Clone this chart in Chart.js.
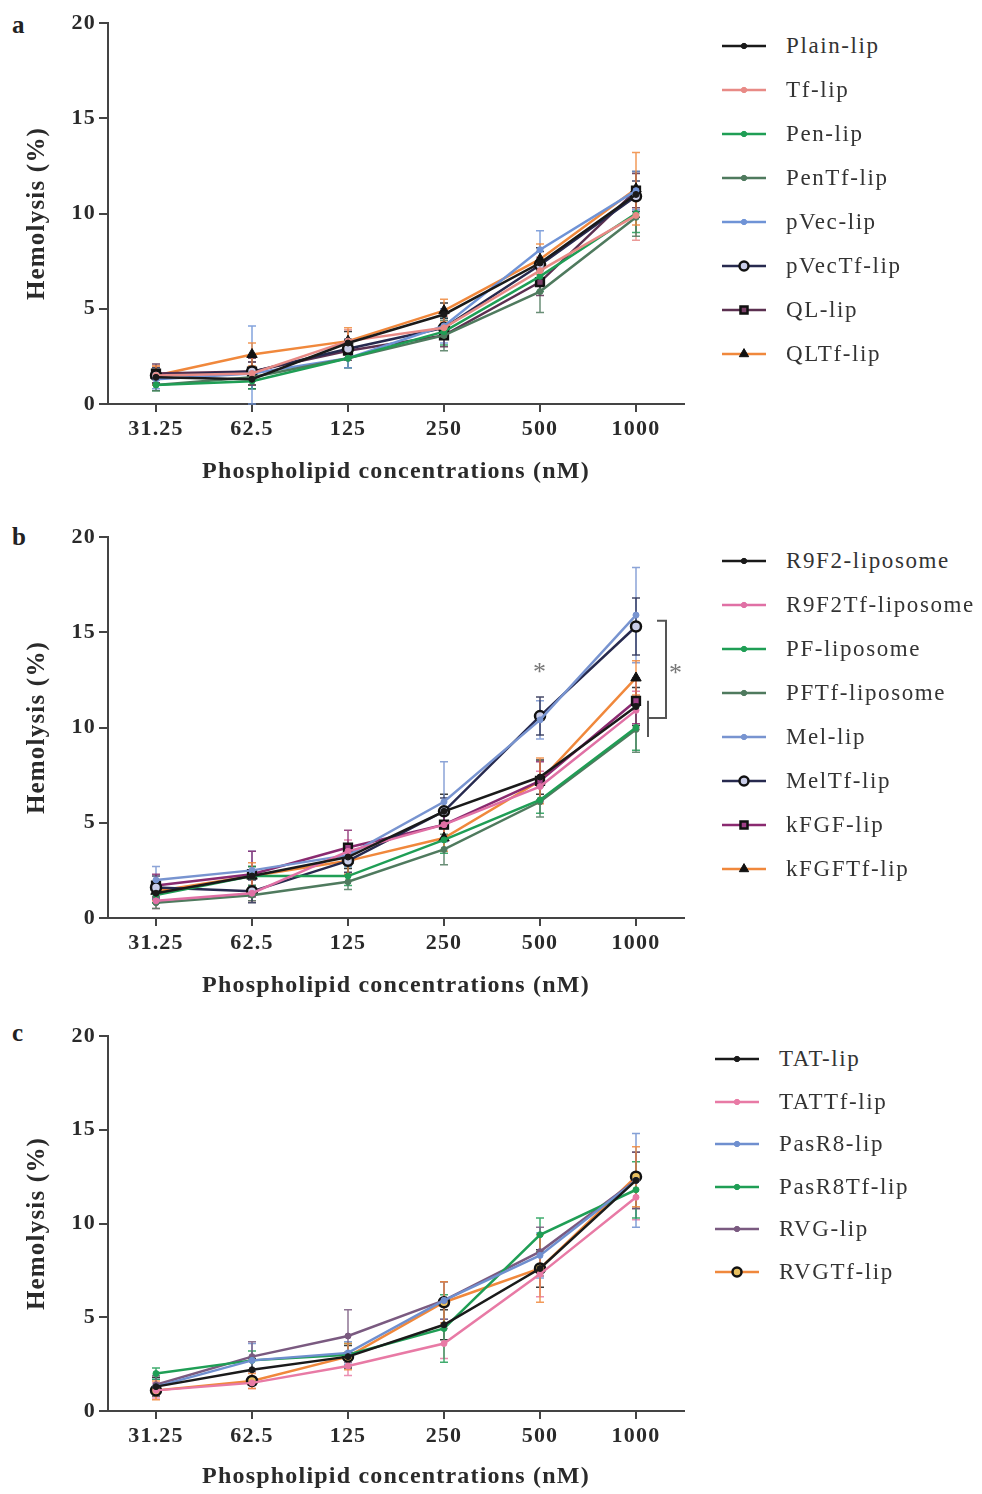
<!DOCTYPE html>
<html>
<head>
<meta charset="utf-8">
<script src="https://cdn.jsdelivr.net/npm/chart.js@4.4.0/dist/chart.umd.min.js"></script>
<style>
  body { margin: 0; background: #fff; width: 982px; height: 1494px; position: relative; overflow: hidden; }
  .panel { position: absolute; left: 0; }
  .letter { position: absolute; left: 12px; font: bold 25px "Liberation Serif", serif; color: #222; }
  .legend-row { position: absolute; display: flex; align-items: center; height: 30px; font: 23px "Liberation Serif", serif; letter-spacing: 1.6px; color: #333; white-space: nowrap; }
  .legend-row canvas { margin-right: 20px; }
</style>
</head>
<body>
<div class="letter" style="top:11px">a</div>
<div class="letter" style="top:523px">b</div>
<div class="letter" style="top:1019px">c</div>
<canvas id="chartA" class="panel" style="top:0" width="700" height="500"></canvas>
<canvas id="chartB" class="panel" style="top:500px" width="700" height="500"></canvas>
<canvas id="chartC" class="panel" style="top:1000px" width="700" height="494"></canvas>
<div id="legends"></div>

<script>
// --- data ---
const concLabels = ["31.25", "62.5", "125", "250", "500", "1000"];
const yTicks = [0, 5, 10, 15, 20];

// panel a
const namesA = ["Plain-lip", "Tf-lip", "Pen-lip", "PenTf-lip", "pVec-lip", "pVecTf-lip", "QL-lip", "QLTf-lip"];
const plainLip   = [1.4, 1.3, 3.2, 4.7, 7.4, 11.0];
const tfLip      = [1.5, 1.6, 3.3, 4.0, 7.0, 9.9];
const penLip     = [1.0, 1.2, 2.4, 3.8, 6.7, 10.0];
const penTfLip   = [1.0, 1.4, 2.4, 3.6, 5.9, 9.8];
const pVecLip    = [1.3, 1.6, 2.4, 4.1, 8.1, 11.2];
const pVecTfLip  = [1.5, 1.7, 2.9, 4.0, 7.3, 10.9];
const qlLip      = [1.6, 1.7, 2.8, 3.6, 6.4, 11.2];
const qlTfLip    = [1.5, 2.6, 3.3, 4.9, 7.6, 11.3];
const sdA = [
  [0.4, 0.5, 0.6, 0.6, 0.8, 1.2],
  [0.5, 0.6, 0.6, 0.6, 0.7, 1.3],
  [0.3, 0.4, 0.5, 0.7, 0.8, 1.0],
  [0.3, 0.4, 0.5, 0.8, 1.1, 1.0],
  [0.5, 2.5, 0.5, 0.9, 1.0, 1.0],
  [0.4, 0.5, 0.5, 0.5, 0.7, 0.8],
  [0.5, 0.7, 0.5, 0.6, 0.7, 0.9],
  [0.5, 0.6, 0.7, 0.6, 0.8, 1.9]
];

// panel b
const namesB = ["R9F2-liposome", "R9F2Tf-liposome", "PF-liposome", "PFTf-liposome", "Mel-lip", "MelTf-lip", "kFGF-lip", "kFGFTf-lip"];
const r9f2     = [1.3, 2.2, 3.2, 5.6, 7.4, 11.1];
const r9f2Tf   = [0.9, 1.3, 3.5, 4.9, 6.9, 10.9];
const pfLip    = [1.2, 2.2, 2.2, 4.1, 6.2, 10.0];
const pfTfLip  = [0.8, 1.2, 1.9, 3.6, 6.1, 9.9];
const melLip   = [2.0, 2.5, 3.3, 6.1, 10.4, 15.9];
const melTfLip = [1.6, 1.4, 3.0, 5.6, 10.6, 15.3];
const kfgfLip  = [1.7, 2.3, 3.7, 4.9, 7.2, 11.4];
const kfgfTfLip = [1.4, 2.2, 3.0, 4.2, 7.2, 12.6];
const sdB = [
  [0.5, 0.5, 0.6, 0.9, 0.9, 1.0],
  [0.4, 0.4, 0.6, 0.8, 0.8, 1.0],
  [0.4, 0.5, 0.5, 0.7, 0.7, 1.2],
  [0.3, 0.3, 0.4, 0.8, 0.8, 1.2],
  [0.7, 1.0, 0.6, 2.1, 1.0, 2.5],
  [0.6, 0.6, 0.6, 0.7, 1.0, 1.5],
  [0.6, 1.2, 0.9, 0.8, 1.0, 1.2],
  [0.5, 0.7, 0.7, 0.7, 1.2, 0.9]
];
const sigStar500 = 13.1;     // "*" above 500 nM
const bracketOuter = [15.6, 10.5];
const bracketInner = [11.4, 9.5];

// panel c
const namesC = ["TAT-lip", "TATTf-lip", "PasR8-lip", "PasR8Tf-lip", "RVG-lip", "RVGTf-lip"];
const tatLip     = [1.3, 2.2, 2.9, 4.6, 7.6, 12.3];
const tatTfLip   = [1.1, 1.5, 2.4, 3.6, 7.3, 11.4];
const pasR8Lip   = [1.3, 2.7, 3.1, 5.9, 8.3, 12.3];
const pasR8TfLip = [2.0, 2.7, 3.0, 4.4, 9.4, 11.8];
const rvgLip     = [1.4, 2.9, 4.0, 5.9, 8.5, 12.3];
const rvgTfLip   = [1.1, 1.6, 2.9, 5.8, 7.6, 12.5];
const sdC = [
  [0.5, 0.6, 0.6, 0.8, 1.0, 1.5],
  [0.4, 0.3, 0.5, 0.8, 1.2, 1.2],
  [0.4, 0.9, 0.6, 1.0, 1.2, 2.5],
  [0.3, 0.5, 0.6, 1.8, 0.9, 1.5],
  [0.5, 0.8, 1.4, 1.0, 1.3, 1.5],
  [0.5, 0.4, 0.7, 1.1, 1.8, 1.6]
];

// --- styles ---
const dot = c => ({ color: c, pointStyle: "circle", radius: 3, fill: c, stroke: c, bw: 1 });
const stylesA = [
  dot("#1a1a1a"), dot("#e88a86"), dot("#1f9e55"), dot("#4f7a5e"), dot("#6f93d6"),
  { color: "#272a4f", pointStyle: "circle", radius: 5, fill: "#c9cde8", stroke: "#111", bw: 2.5 },
  { color: "#5b3050", pointStyle: "rect", radius: 5.5, fill: "#7a4068", stroke: "#111", bw: 2.5 },
  { color: "#f0883c", pointStyle: "triangle", radius: 6, fill: "#111", stroke: "#111", bw: 1 }
];
const stylesB = [
  dot("#1a1a1a"), dot("#e070a5"), dot("#1f9e55"), dot("#4f7a5e"), dot("#7894d0"),
  { color: "#272a4f", pointStyle: "circle", radius: 5, fill: "#c9cde8", stroke: "#111", bw: 2.5 },
  { color: "#8a2a70", pointStyle: "rect", radius: 5.5, fill: "#a04088", stroke: "#111", bw: 2.5 },
  { color: "#f0883c", pointStyle: "triangle", radius: 6, fill: "#111", stroke: "#111", bw: 1 }
];
const stylesC = [
  dot("#1a1a1a"), dot("#e87aa5"), dot("#6f8fcf"), dot("#1f9e55"), dot("#7a5a80"),
  { color: "#f0883c", pointStyle: "circle", radius: 5, fill: "#e8c060", stroke: "#111", bw: 2.5 }
];

const tickFont = { family: "Liberation Serif", size: 22, weight: "bold" };
const xTitleFont = { family: "Liberation Serif", size: 24, weight: "bold" };
const yTitleFont = { family: "Liberation Serif", size: 25, weight: "bold" };
const axisColor = "#444";

// wider letter spacing like the printed figure
const spacing = {
  id: "spacing",
  beforeDraw(chart) { chart.ctx.letterSpacing = "1.2px"; }
};

const errorBars = {
  id: "errorBars",
  beforeDatasetsDraw(chart) {
    const { ctx, scales: { x, y } } = chart;
    chart.data.datasets.forEach(ds => {
      if (!ds.sd) return;
      ctx.save();
      ctx.strokeStyle = ds.borderColor;
      ctx.globalAlpha = 0.85;
      ctx.lineWidth = 1.5;
      ds.data.forEach((v, j) => {
        const px = x.getPixelForValue(j);
        const top = y.getPixelForValue(v + ds.sd[j]);
        const bot = y.getPixelForValue(Math.max(0, v - ds.sd[j]));
        ctx.beginPath();
        ctx.moveTo(px, top); ctx.lineTo(px, bot);
        ctx.moveTo(px - 4, top); ctx.lineTo(px + 4, top);
        ctx.moveTo(px - 4, bot); ctx.lineTo(px + 4, bot);
        ctx.stroke();
      });
      ctx.restore();
    });
  }
};

const sigMarks = {
  id: "sigMarks",
  afterDatasetsDraw(chart, args, opts) {
    if (!opts.show) return;
    const { ctx, scales: { x, y } } = chart;
    const x500 = x.getPixelForValue(4), x1000 = x.getPixelForValue(5);
    ctx.save();
    ctx.fillStyle = "#777";
    ctx.strokeStyle = "#555";
    ctx.lineWidth = 2;
    ctx.font = "26px 'Liberation Serif'";
    ctx.textAlign = "center";
    ctx.textBaseline = "middle";
    ctx.fillText("*", x500, y.getPixelForValue(sigStar500) + 5);
    const oTop = y.getPixelForValue(bracketOuter[0]), oBot = y.getPixelForValue(bracketOuter[1]);
    ctx.beginPath();
    ctx.moveTo(x1000 + 21, oTop); ctx.lineTo(x1000 + 30, oTop);
    ctx.lineTo(x1000 + 30, oBot); ctx.lineTo(x1000 + 12, oBot);
    ctx.moveTo(x1000 + 12, y.getPixelForValue(bracketInner[0]));
    ctx.lineTo(x1000 + 12, y.getPixelForValue(bracketInner[1]));
    ctx.stroke();
    ctx.fillText("*", x1000 + 40, (oTop + oBot) / 2 + 5);
    ctx.restore();
  }
};

function makeChart(id, series, sds, styles, padTop, padBottom, axisH, showSig) {
  const datasets = series.map((vals, i) => ({
    data: vals,
    sd: sds[i],
    borderColor: styles[i].color,
    borderWidth: 2.5,
    pointStyle: styles[i].pointStyle,
    pointRadius: styles[i].radius,
    pointBackgroundColor: styles[i].fill,
    pointBorderColor: styles[i].stroke,
    pointBorderWidth: styles[i].bw,
    tension: 0,
    fill: false
  }));
  return new Chart(document.getElementById(id), {
    type: "line",
    data: { labels: concLabels, datasets },
    plugins: [spacing, errorBars, sigMarks],
    options: {
      responsive: false,
      animation: false,
      layout: { padding: { top: padTop, right: 16, bottom: padBottom, left: 0 } },
      plugins: { legend: { display: false }, tooltip: { enabled: false }, sigMarks: { show: showSig } },
      scales: {
        x: {
          offset: true,
          grid: { offset: false, drawOnChartArea: false, tickLength: 8, color: axisColor, lineWidth: 2 },
          border: { color: axisColor, width: 2 },
          ticks: { color: "#2a2a2a", font: tickFont, padding: 4, maxRotation: 0 },
          title: { display: true, text: "Phospholipid concentrations (nM)", color: "#2a2a2a", font: xTitleFont, padding: 0 },
          afterFit: s => { s.height = axisH; }
        },
        y: {
          min: 0, max: 20,
          afterBuildTicks: s => { s.ticks = yTicks.map(v => ({ value: v })); },
          grid: { drawOnChartArea: false, tickLength: 9, color: axisColor, lineWidth: 2 },
          border: { color: axisColor, width: 2 },
          ticks: { color: "#2a2a2a", font: tickFont, padding: 3 },
          title: { display: true, text: "Hemolysis (%)", color: "#2a2a2a", font: yTitleFont, padding: { top: 23, bottom: 0 } },
          afterFit: s => { s.width = 108; }
        }
      }
    }
  });
}

makeChart("chartA", [plainLip, tfLip, penLip, penTfLip, pVecLip, pVecTfLip, qlLip, qlTfLip], sdA, stylesA, 23, 13.6, 82.4, false);
makeChart("chartB", [r9f2, r9f2Tf, pfLip, pfTfLip, melLip, melTfLip, kfgfLip, kfgfTfLip], sdB, stylesB, 37, 0, 82, true);
makeChart("chartC", [tatLip, tatTfLip, pasR8Lip, pasR8TfLip, rvgLip, rvgTfLip], sdC, stylesC, 36, 2.6, 80.4, false);

// --- legends ---
function buildLegend(names, styles, left, top, step) {
  const holder = document.getElementById("legends");
  names.forEach((name, i) => {
    const row = document.createElement("div");
    row.className = "legend-row";
    row.style.left = left + "px";
    row.style.top = (top + i * step - 15) + "px";
    const c = document.createElement("canvas");
    c.width = 44; c.height = 16;
    const ctx = c.getContext("2d");
    const st = styles[i];
    ctx.strokeStyle = st.color; ctx.lineWidth = 2.5;
    ctx.beginPath(); ctx.moveTo(0, 8); ctx.lineTo(44, 8); ctx.stroke();
    ctx.fillStyle = st.fill; ctx.strokeStyle = st.stroke; ctx.lineWidth = st.bw;
    Chart.helpers.drawPoint(ctx, { pointStyle: st.pointStyle, radius: st.radius * 0.9, rotation: 0, borderWidth: st.bw }, 22, 8);
    row.appendChild(c);
    row.appendChild(document.createTextNode(name));
    holder.appendChild(row);
  });
}
buildLegend(namesA, stylesA, 722, 46, 44);
buildLegend(namesB, stylesB, 722, 561, 44);
buildLegend(namesC, stylesC, 715, 1059, 42.6);
</script>
</body>
</html>
